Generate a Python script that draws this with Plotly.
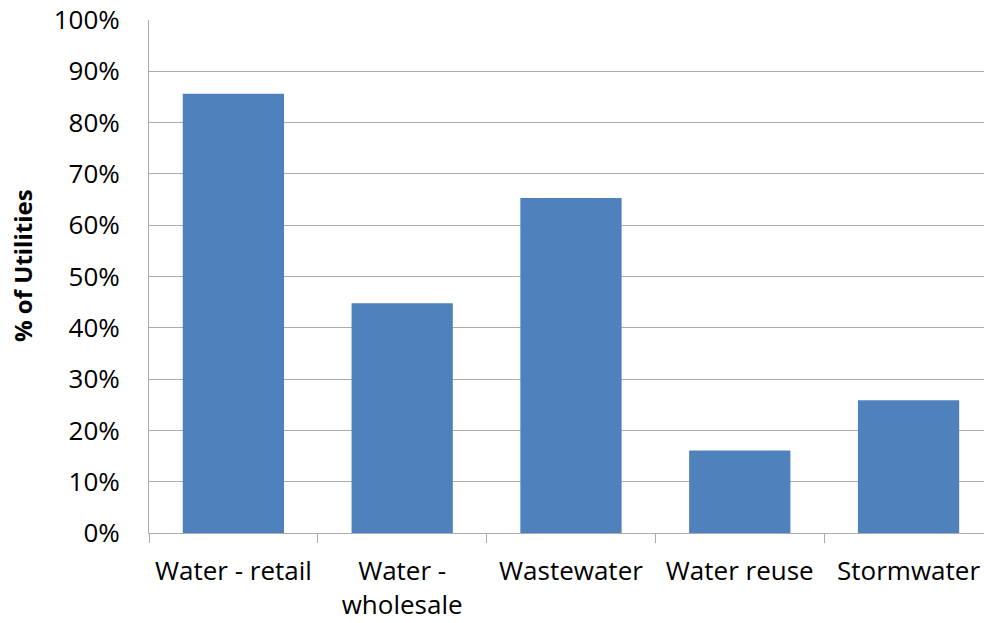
import plotly.graph_objects as go

categories = ["Water - retail", "Water -<br>wholesale", "Wastewater", "Water reuse", "Stormwater"]
values = [0.856, 0.448, 0.653, 0.161, 0.259]
y_ticks = [0, 0.1, 0.2, 0.3, 0.4, 0.5, 0.6, 0.7, 0.8, 0.9, 1.0]
y_tick_labels = ["0%", "10%", "20%", "30%", "40%", "50%", "60%", "70%", "80%", "90%", "100%"]

fig = go.Figure(go.Bar(
    x=categories, y=values, width=0.6,
    marker=dict(color="#4F81BD", line=dict(width=0)),
))

grid = "#ABABAB"
fig.update_layout(
    width=984, height=623,
    margin=dict(l=149, r=0, t=20, b=90),
    paper_bgcolor="white", plot_bgcolor="white",
    font=dict(family="Open Sans", size=26, color="black"),
    showlegend=False,
    bargap=0.4,
)
fig.update_xaxes(
    type="category", range=[-0.5, 4.447],
    showline=True, linecolor=grid, linewidth=1,
    ticks="outside", tickson="boundaries", ticklen=9, tickcolor=grid, tickwidth=1,
    showgrid=False, tickfont=dict(size=26), ticklabelstandoff=15,
)
fig.update_yaxes(
    range=[0, 1.0], tickvals=y_ticks, ticktext=y_tick_labels,
    showline=True, linecolor=grid, linewidth=1,
    showgrid=True, gridcolor=grid, gridwidth=1,
    ticks="", ticklabelstandoff=23, tickfont=dict(size=26),
    zeroline=False,
)
fig.add_annotation(
    text="<b>% of Utilities</b>", textangle=-90,
    xref="paper", yref="paper", x=(22 - 149) / 835, y=(533 - 266) / 513,
    xanchor="center", yanchor="middle", showarrow=False,
    font=dict(size=24),
)
fig.write_html("out.html")
